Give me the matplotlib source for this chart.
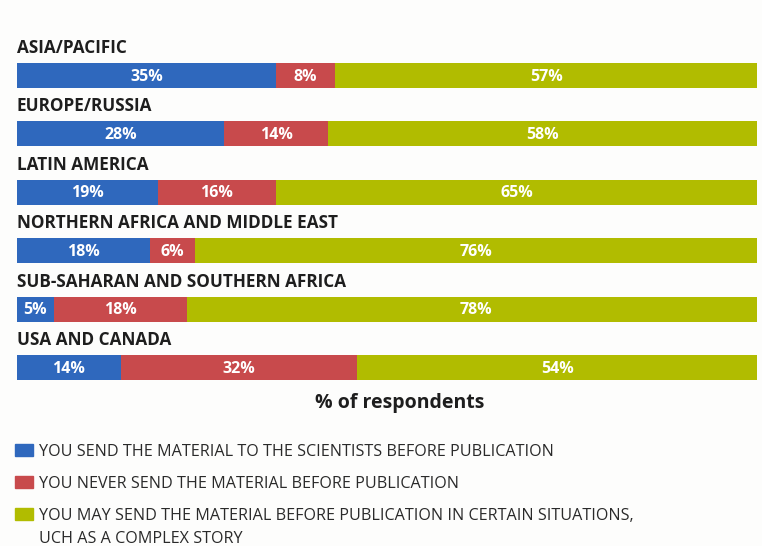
import matplotlib.pyplot as plt
from matplotlib.patches import Rectangle

plt.rcParams["font.family"] = ["Open Sans", "DejaVu Sans"]

# Share of respondents per region (%)
regions = [
    "ASIA/PACIFIC",
    "EUROPE/RUSSIA",
    "LATIN AMERICA",
    "NORTHERN AFRICA AND MIDDLE EAST",
    "SUB-SAHARAN AND SOUTHERN AFRICA",
    "USA AND CANADA",
]
send_before = [35, 28, 19, 18, 5, 14]
never_send = [8, 14, 16, 6, 18, 32]
may_send = [57, 58, 65, 76, 78, 54]

legend_labels = [
    "YOU SEND THE MATERIAL TO THE SCIENTISTS BEFORE PUBLICATION",
    "YOU NEVER SEND THE MATERIAL BEFORE PUBLICATION",
    "YOU MAY SEND THE MATERIAL BEFORE PUBLICATION IN CERTAIN SITUATIONS,\nUCH AS A COMPLEX STORY",
]
colors = ["#2f68bd", "#c84a4c", "#b1bc00"]

W, H = 762, 546
fig = plt.figure(figsize=(W / 100, H / 100), dpi=100)
fig.patch.set_facecolor("#fdfdfc")

ax = fig.add_axes([17 / W, 1 - 396.7 / H, 740 / W, 379.6 / H])
ax.set_xlim(0, 100)
ax.set_ylim(5.5, -1.0)
ax.axis("off")

rows = range(len(regions))
left = [0] * len(regions)
for series, color in zip([send_before, never_send, may_send], colors):
    ax.barh(rows, series, left=left, height=0.43, color=color, linewidth=0)
    for i, (l, v) in enumerate(zip(left, series)):
        ax.text(l + v / 2, i + 0.02, f"{v}%", ha="center", va="center",
                color="white", fontsize=11.5, fontweight="bold")
    left = [l + v for l, v in zip(left, series)]

for i, name in enumerate(regions):
    ax.text(0, i - 0.47, name, ha="left", va="center", fontsize=12.3,
            fontweight="bold", color="#1e1e1e")

fig.text(400 / W, 1 - 403 / H, "% of respondents", ha="center", va="center",
         fontsize=14, fontweight="bold", color="#1e1e1e")

# Legend drawn by hand so the wrapped entry keeps its swatch on the first line
legend_y = [450, 482, 514]
for y, color, label in zip(legend_y, colors, legend_labels):
    fig.patches.append(Rectangle((15 / W, 1 - (y + 6) / H), 18 / W, 12 / H,
                                 transform=fig.transFigure, color=color))
    fig.text(39 / W, 1 - (y - 6) / H, label, ha="left", va="top",
             fontsize=11.6, color="#2a2a2a", linespacing=1.6)

fig.savefig("out.png", dpi=100, facecolor=fig.get_facecolor())
